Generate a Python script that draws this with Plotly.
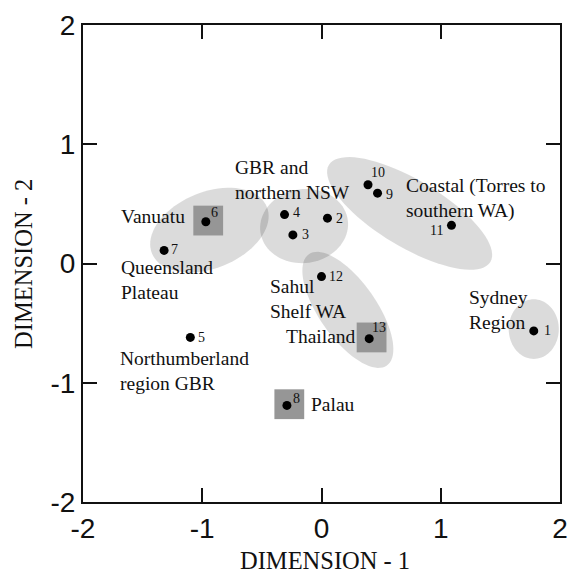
import numpy as np
import plotly.graph_objects as go

# Site ordination scores (MDS)
site_ids = ["1", "2", "3", "4", "5", "6", "7", "8", "9", "10", "11", "12", "13"]
dim1 = [1.78, 0.05, -0.24, -0.31, -1.10, -0.97, -1.32, -0.29, 0.47, 0.39, 1.09, 0.00, 0.40]
dim2 = [-0.565, 0.38, 0.24, 0.41, -0.62, 0.35, 0.11, -1.19, 0.59, 0.66, 0.32, -0.11, -0.63]

# Sites highlighted with a grey square
highlighted = ["6", "8", "13"]

tick_vals = [-2, -1, 0, 1, 2]
tick_text = ["-2", "-1", "0", "1", "2"]

SERIF = "Liberation Serif, Times New Roman, serif"
SANS = "Liberation Sans, Arial, sans-serif"

fig = go.Figure()


def ellipse_path(cx, cy, a, b, angle_deg, n=80):
    t = np.linspace(0, 2 * np.pi, n, endpoint=False)
    th = np.deg2rad(angle_deg)
    xs = cx + a * np.cos(t) * np.cos(th) - b * np.sin(t) * np.sin(th)
    ys = cy + a * np.cos(t) * np.sin(th) + b * np.sin(t) * np.cos(th)
    pts = " L ".join(f"{x:.4f},{y:.4f}" for x, y in zip(xs, ys))
    return f"M {pts} Z"


# Group envelopes: centre, semi-axes and rotation (data units)
groups = [
    (-0.94, 0.28, 0.52, 0.32, 22),    # Vanuatu / Queensland Plateau
    (-0.146, 0.314, 0.37, 0.31, 8),   # GBR and northern NSW
    (0.739, 0.42, 0.79, 0.28, -31),   # Coastal
    (0.221, -0.389, 0.57, 0.24, -55),  # Sahul Shelf / Thailand
    (1.78, -0.55, 0.25, 0.21, 90),    # Sydney
]
for cx, cy, a, b, ang in groups:
    fig.add_shape(type="path", path=ellipse_path(cx, cy, a, b, ang),
                  xref="x", yref="y", fillcolor="rgba(0,0,0,0.14)",
                  line=dict(width=0), layer="below")

half = 0.125
for sid in highlighted:
    i = site_ids.index(sid)
    fig.add_shape(type="rect", xref="x", yref="y",
                  x0=dim1[i] - half + 0.02, x1=dim1[i] + half + 0.02,
                  y0=dim2[i] - half + 0.01, y1=dim2[i] + half + 0.01,
                  fillcolor="rgb(150,150,150)", line=dict(width=0), layer="below")

fig.add_trace(go.Scatter(
    x=dim1, y=dim2, mode="markers",
    marker=dict(size=9, color="black", line=dict(width=0)),
    hoverinfo="skip", showlegend=False,
))

# Site number offsets (pixels): xshift, yshift, anchor
num_pos = {
    "1": (8, 0, "left"), "2": (7, 0, "left"), "3": (7, 0, "left"),
    "4": (6, 2, "left"), "5": (6, 0, "left"), "6": (3, 9, "left"),
    "7": (5, 1, "left"), "8": (4, 7, "left"), "9": (6, -1, "left"),
    "10": (1, 12, "left"), "11": (-6, -5, "right"), "12": (5, 0, "left"),
    "13": (1, 11, "left"),
}
for sid, x, y in zip(site_ids, dim1, dim2):
    dx, dy, anc = num_pos[sid]
    fig.add_annotation(x=x, y=y, text=sid, showarrow=False, xanchor=anc,
                       yanchor="middle", xshift=dx, yshift=dy,
                       font=dict(family=SERIF, size=14, color="#111"))

# Region labels
regions = [
    ("GBR and<br>northern NSW", -0.74, 0.70),
    ("Vanuatu", -1.70, 0.39),
    ("Queensland<br>Plateau", -1.70, -0.14),
    ("Northumberland<br>region GBR", -1.71, -0.904),
    ("Palau", -0.104, -1.184),
    ("Sahul<br>Shelf WA", -0.447, -0.301),
    ("Thailand", -0.313, -0.615),
    ("Coastal (Torres to<br>southern WA)", 0.689, 0.544),
    ("Sydney<br>Region", 1.223, -0.389),
]
for txt, x, y in regions:
    fig.add_annotation(x=x, y=y, text=txt, showarrow=False, xanchor="left",
                       yanchor="middle", align="left",
                       font=dict(family=SERIF, size=19.5, color="#111"))

# Axis titles
fig.add_annotation(x=0.03, y=-0.1216, xref="x", yref="paper", text="DIMENSION - 1",
                   showarrow=False, xanchor="center", yanchor="middle",
                   font=dict(family=SERIF, size=24.5, color="#111"))
fig.add_annotation(x=-0.125, y=0, xref="paper", yref="y", text="DIMENSION - 2",
                   showarrow=False, textangle=-90, xanchor="center", yanchor="middle",
                   font=dict(family=SERIF, size=24.5, color="#111"))

axis_style = dict(
    range=[-2, 2], tickvals=tick_vals, ticktext=tick_text,
    ticks="inside", ticklen=14, tickwidth=2, tickcolor="#111",
    showline=True, linewidth=2, linecolor="#111", mirror="allticks",
    showgrid=False, zeroline=False, automargin=False,
    ticklabeloverflow="allow",
    tickfont=dict(family=SANS, size=28, color="#111"),
)

fig.update_layout(
    width=569, height=574,
    margin=dict(l=83, r=9, t=25, b=72),
    paper_bgcolor="white", plot_bgcolor="white",
    xaxis=axis_style, yaxis=axis_style,
)

fig.write_html("out.html")
